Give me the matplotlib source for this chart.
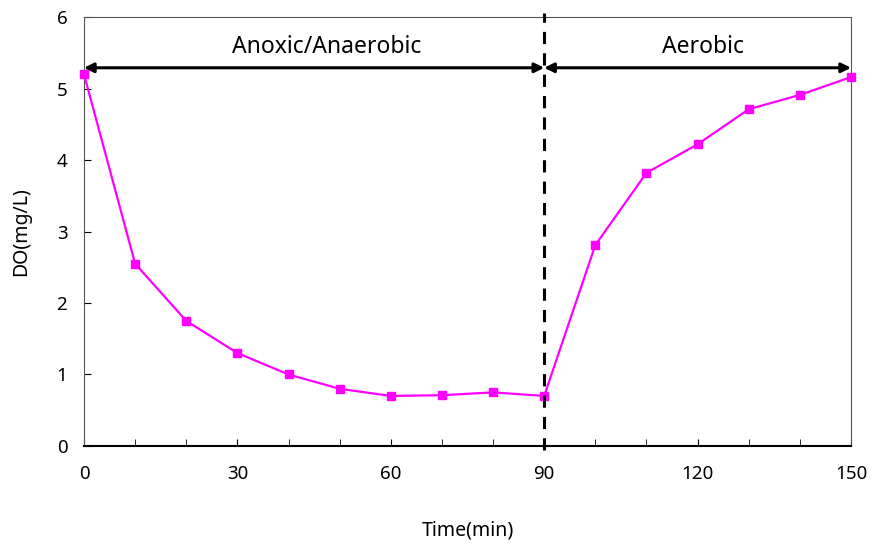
import matplotlib
matplotlib.use("Agg")
import matplotlib.pyplot as plt
from matplotlib.ticker import MultipleLocator

# DO profile
time_min = [0, 10, 20, 30, 40, 50, 60, 70, 80, 90, 100, 110, 120, 130, 140, 150]
do_mgl = [5.2, 2.55, 1.75, 1.30, 1.0, 0.80, 0.70, 0.71, 0.75, 0.70,
          2.81, 3.82, 4.22, 4.71, 4.91, 5.16]
phase_names = ["Anoxic/Anaerobic", "Aerobic"]
phase_bounds = [(0, 90), (90, 150)]
label_x = [47.5, 121]
switch_time = 90

plt.rcParams['font.family'] = ['Noto Sans', 'DejaVu Sans']

fig = plt.figure(figsize=(8.73, 5.51), dpi=100)
ax = fig.add_axes([0.0962, 0.1906, 0.8786, 0.7785])

ax.plot(time_min, do_mgl, color='#ff00ff', linewidth=1.6,
        marker='s', markersize=6, clip_on=False, zorder=3)

# phase divider
ax.plot([switch_time, switch_time], [-0.06, 6.05], color='black', linestyle='--',
        linewidth=2.2, dashes=(4, 3), clip_on=False, zorder=4)

# phase arrows and labels
for name, (x0, x1), lx in zip(phase_names, phase_bounds, label_x):
    ax.annotate('', xy=(x0, 5.29), xytext=(x1, 5.29),
                arrowprops=dict(arrowstyle='<|-|>', color='black', lw=2.2,
                                mutation_scale=14, shrinkA=0, shrinkB=0),
                annotation_clip=False)
    ax.text(lx, 5.58, name, ha='center', va='center', fontsize=16.5)

ax.set_xlim(0, 150)
ax.set_ylim(0, 6)
ax.xaxis.set_major_locator(MultipleLocator(30))
ax.xaxis.set_minor_locator(MultipleLocator(10))
ax.yaxis.set_major_locator(MultipleLocator(1))
ax.tick_params(which='both', direction='in', labelsize=13.5)
ax.tick_params(which='major', length=5)
ax.tick_params(which='minor', length=5)
ax.tick_params(axis='x', pad=14)
ax.tick_params(axis='y', pad=12)
for s in ax.spines.values():
    s.set_color('#555555')
ax.spines['bottom'].set_color('black')
ax.spines['bottom'].set_linewidth(1.5)

ax.set_xlabel('Time(min)', fontsize=14, labelpad=27)
ax.set_ylabel('DO(mg/L)', fontsize=14, labelpad=18)

fig.savefig('out.png', dpi=100)
